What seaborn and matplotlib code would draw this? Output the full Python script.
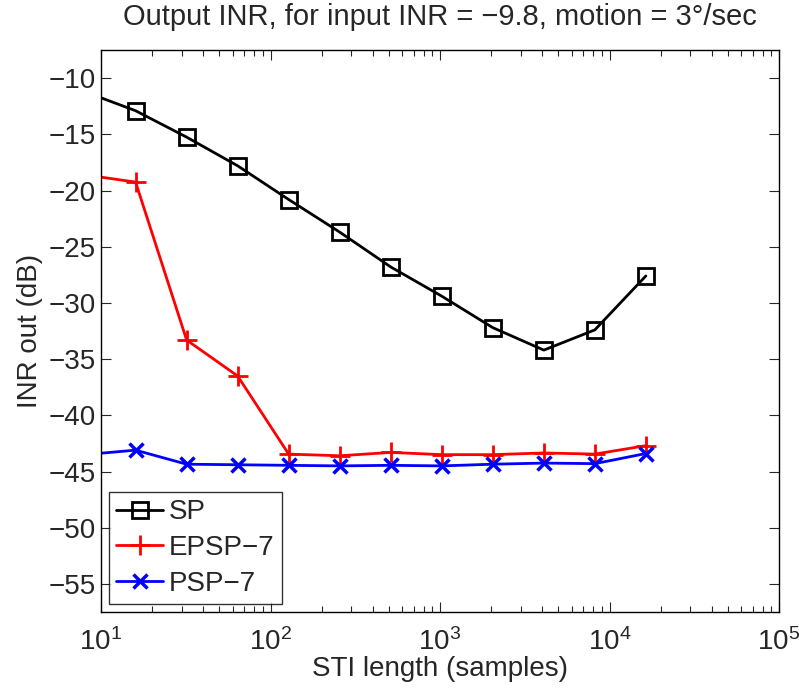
import numpy as np
import pandas as pd
import seaborn as sns
import matplotlib.pyplot as plt

# STI lengths (first point lies left of the visible axis and is clipped)
sti_len = [8, 16, 32, 64, 128, 256, 512, 1024, 2048, 4096, 8192, 16384]
sp = [-11.2, -12.9, -15.25, -17.8, -20.8, -23.7, -26.8, -29.4, -32.2, -34.2, -32.4, -27.6]
epsp7 = [-18.6, -19.25, -33.3, -36.5, -43.45, -43.6, -43.3, -43.5, -43.5, -43.35, -43.45, -42.7]
psp7 = [-43.5, -43.1, -44.35, -44.4, -44.45, -44.5, -44.45, -44.5, -44.35, -44.25, -44.3, -43.4]

sns.set_style('ticks')
plt.rcParams['font.family'] = ['Liberation Sans', 'DejaVu Sans']
plt.rcParams['axes.unicode_minus'] = True

fs = 20

fig = plt.figure(figsize=(7.99, 6.92), dpi=100)
ax = fig.add_axes([0.1264, 0.1156, 0.8486, 0.8121])

df = pd.DataFrame({'x': sti_len, 'SP': sp, 'EPSP': epsp7, 'PSP': psp7})

sns.lineplot(data=df, x='x', y='SP', ax=ax, color='black', lw=2, marker='s',
             markersize=11, markerfacecolor='none', markeredgecolor='black',
             markeredgewidth=2, label='SP')
sns.lineplot(data=df, x='x', y='EPSP', ax=ax, color='red', lw=2, marker='+',
             markersize=14, markeredgecolor='red', markeredgewidth=2, label='EPSP\u22127')
sns.lineplot(data=df, x='x', y='PSP', ax=ax, color='blue', lw=2, marker='x',
             markersize=10, markeredgecolor='blue', markeredgewidth=2.5, label='PSP\u22127')

ax.set_xscale('log')
ax.set_xlim(10, 1e5)
ax.set_ylim(-57.5, -7.5)
ax.set_yticks(np.arange(-55, -5, 5))
ax.set_yticklabels([f'\u2212{abs(v)}' for v in range(-55, -5, 5)])

ax.tick_params(which='both', direction='in', top=True, right=True, labelsize=fs)
ax.tick_params(which='major', length=7, width=0.8)
ax.tick_params(which='minor', length=4, width=0.8)
ax.tick_params(axis='x', which='major', pad=12)
for s in ax.spines.values():
    s.set_linewidth(1.0)
    s.set_color('black')

ax.set_xlabel('STI length (samples)', fontsize=fs, labelpad=0)
ax.set_ylabel('INR out (dB)', fontsize=fs, labelpad=4)
ax.set_title('Output INR, for input INR = \u22129.8, motion = 3\u00b0/sec',
             fontsize=21, pad=18)

leg = ax.legend(loc='lower left', fontsize=fs, frameon=True, fancybox=False,
                edgecolor='black', handlelength=1.7, handletextpad=0.2,
                borderpad=0.25, labelspacing=0.35, borderaxespad=0.3)
leg.get_frame().set_linewidth(1.0)

fig.savefig('out.png', dpi=100)
